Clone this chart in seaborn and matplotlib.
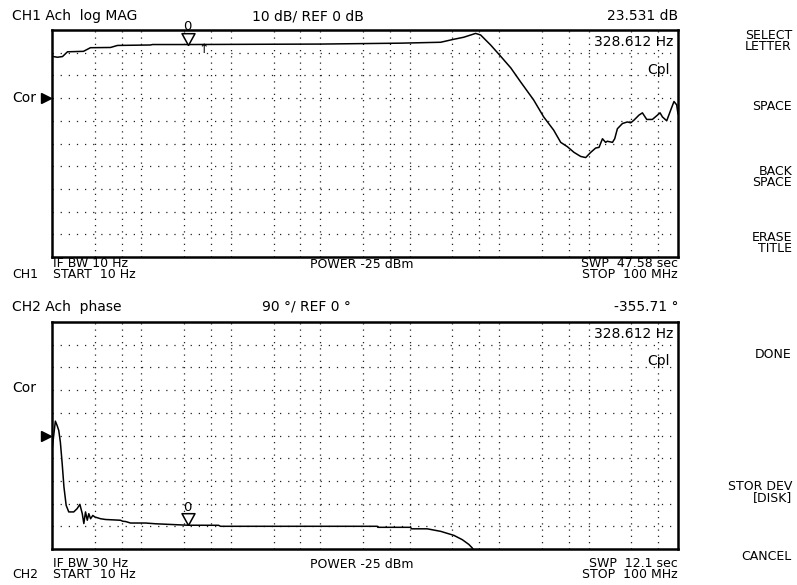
import numpy as np
import pandas as pd
import matplotlib
matplotlib.use("Agg")
import matplotlib.pyplot as plt
import seaborn as sns
from matplotlib.transforms import blended_transform_factory

# ---------------- data ----------------
ch1_freq_hz = [10, 11.5, 13.1, 14.9, 22.5, 26.9, 45.1, 54, 126, 133, 328.6, 1660, 10000,
               79000, 222000, 310000, 401000, 546000, 621000, 803000, 1.01e6, 1.35e6,
               1.74e6, 2.43e6, 3.15e6, 4.07e6, 4.88e6, 5.79e6, 6.87e6, 8.16e6, 9.29e6,
               10.57e6, 12.0e6, 13.1e6, 14.3e6, 15.5e6, 16.2e6, 18.5e6, 19.6e6, 21.0e6,
               23.9e6, 27.2e6, 29.6e6, 32.2e6, 36.6e6, 40.0e6, 44.7e6, 51.7e6, 58.9e6,
               63.0e6, 67.0e6, 74.8e6, 83.0e6, 90.2e6, 96.7e6, 100e6]
ch1_mag_db = [18.4, 18.0, 18.3, 20.4, 20.6, 22.2, 22.3, 23.2, 23.4, 23.6, 23.6, 23.7, 23.8,
              24.2, 24.6, 25.9, 26.8, 28.5, 27.8, 23.4, 19.0, 13.3,
              7.1, -0.8, -8.3, -14.1, -19.5, -21.4, -23.9, -25.7, -26.2,
              -23.9, -22.0, -21.7, -17.9, -19.5, -19.0, -19.5, -17.9, -13.5,
              -11.2, -10.5, -10.9, -9.7, -7.5, -6.5, -9.4, -9.4, -7.5,
              -6.5, -8.3, -10.0, -5.2, -1.5, -3.0, -7.0]

ch2_freq_hz = [10, 10.9, 11.4, 11.9, 12.4, 13.0, 13.6, 14.4, 15.4, 17.5, 19.1, 20.5, 21.8,
               22.7, 23.7, 24.8, 25.8, 27.0, 28.6, 30.1, 32.1, 34.9, 39.7, 58.3, 61.9, 66.4,
               75.5, 111, 144, 328.6, 728, 767, 43400, 44000, 102000, 105000, 157000,
               222000, 312000, 387000, 459000, 501000, 540000]
ch2_phase_deg = [-59, 57, 40, 20, -26, -112, -204, -277, -303, -303, -290, -273, -310,
                 -349, -303, -336, -310, -330, -317, -323, -326, -330, -333, -336, -340, -341,
                 -347, -347, -350, -355.7, -356, -360, -360, -364, -364, -370, -370,
                 -380, -396, -413, -432, -446, -470]

marker_freq_hz = 328.612
ch1_marker_db = 23.531
ch2_marker_deg = -355.71
arrow_freq_hz = 495
arrow_db = 21.6

ch1_ylim = (-70, 30)      # 10 dB/div, REF 0 dB
ch2_ylim = (-450, 450)    # 90 deg/div, REF 0 deg
grid_freqs = [m * 10 ** k for k in range(1, 8) for m in (3, 6, 10)][:-1]

softkeys = [("SELECT\nLETTER", 50), ("SPACE", 110), ("BACK\nSPACE", 186),
            ("ERASE\nTITLE", 252), ("DONE", 358), ("STOR DEV\n[DISK]", 501),
            ("CANCEL", 560)]

# ---------------- figure ----------------
W, H = 797, 585
sns.set_theme(style="white")
plt.rcParams["font.family"] = ["DejaVu Sans"]

fig = plt.figure(figsize=(W / 100, H / 100), dpi=100)
fig.patch.set_facecolor("white")


def rect(x0, y0, x1, y1):
    return [x0 / W, 1 - y1 / H, (x1 - x0) / W, (y1 - y0) / H]


def ftext(x, y, s, ha="left", size=10, **kw):
    fig.text(x / W, 1 - y / H, s, ha=ha, va="baseline", fontsize=size,
             color="black", **kw)


ax1 = fig.add_axes(rect(52, 30, 678, 257))
ax2 = fig.add_axes(rect(52, 322, 678, 549))

df1 = pd.DataFrame({"freq": ch1_freq_hz, "value": ch1_mag_db})
df2 = pd.DataFrame({"freq": ch2_freq_hz, "value": ch2_phase_deg})

tri = [(0, 0), (-0.55, 1), (0.55, 1), (0, 0)]

for ax, df, ylim, mval in ((ax1, df1, ch1_ylim, ch1_marker_db),
                           (ax2, df2, ch2_ylim, ch2_marker_deg)):
    sns.lineplot(data=df, x="freq", y="value", ax=ax, color="black",
                 linewidth=1.1, estimator=None, sort=False, legend=False, zorder=3)
    ax.set_xscale("log")
    ax.set_xlim(10, 1e8)
    ax.set_ylim(*ylim)
    ax.minorticks_off()
    ax.set_xticks(grid_freqs)
    step = (ylim[1] - ylim[0]) / 10
    ax.set_yticks(np.arange(ylim[0] + step, ylim[1] - step / 2, step))
    ax.tick_params(which="both", length=0, labelbottom=False, labelleft=False)
    ax.set_xlabel("")
    ax.set_ylabel("")
    ax.xaxis.grid(True, linestyle=(0, (1, 4)), color="#222222", linewidth=0.9)
    ax.yaxis.grid(True, linestyle=(0, (1, 5.5)), color="#222222", linewidth=0.9)
    ax.set_axisbelow(True)
    ax.set_facecolor("white")
    for s in ax.spines.values():
        s.set_visible(True)
        s.set_color("black")
        s.set_linewidth(1.8)
    # marker triangle with label
    ax.plot([marker_freq_hz], [mval], marker=tri, ms=17, mfc="white", mec="black",
            mew=1.1, linestyle="none", clip_on=False, zorder=6)
    ax.annotate("0", xy=(marker_freq_hz, mval), xytext=(0, 10.5),
                textcoords="offset points", ha="center", va="baseline",
                fontsize=9.5, color="black", annotation_clip=False)
    # reference pointer
    bt = blended_transform_factory(ax.transAxes, ax.transData)
    ax.plot([-0.01], [0], marker=">", ms=7, color="black", transform=bt,
            clip_on=False, linestyle="none")

ax1.text(arrow_freq_hz, arrow_db, "\u2191", ha="center", va="center",
         fontsize=9, color="black")

# ---------------- texts ----------------
LS = 0.8
FS = 9
# channel 1
ftext(12, 20, "CH1 Ach  log MAG")
ftext(252, 20, "10 dB/ REF 0 dB")
ftext(678, 20, "23.531 dB", ha="right")
ftext(673, 46, "328.612 Hz", ha="right")
ftext(670, 74, "Cpl", ha="right")
ftext(12, 102, "Cor")
ftext(53, 278, "IF BW 10 Hz\nSTART  10 Hz", size=FS, linespacing=LS)
ftext(12, 278, "CH1", size=FS)
ftext(310, 268, "POWER -25 dBm", size=FS)
ftext(678, 278, "SWP  47.58 sec\nSTOP  100 MHz", ha="right", size=FS,
      linespacing=LS, multialignment="right")

# channel 2
ftext(12, 311, "CH2 Ach  phase")
ftext(262, 311, "90 \u00b0/ REF 0 \u00b0")
ftext(678, 311, "-355.71 \u00b0", ha="right")
ftext(673, 338, "328.612 Hz", ha="right")
ftext(670, 365, "Cpl", ha="right")
ftext(12, 392, "Cor")
ftext(53, 578, "IF BW 30 Hz\nSTART  10 Hz", size=FS, linespacing=LS)
ftext(12, 578, "CH2", size=FS)
ftext(310, 568, "POWER -25 dBm", size=FS)
ftext(678, 578, "SWP  12.1 sec\nSTOP  100 MHz", ha="right", size=FS,
      linespacing=LS, multialignment="right")

# softkeys
for label, yb in softkeys:
    ftext(792, yb, label, ha="right", size=9, linespacing=LS,
          multialignment="right")

fig.savefig("out.png", dpi=100, facecolor="white")
